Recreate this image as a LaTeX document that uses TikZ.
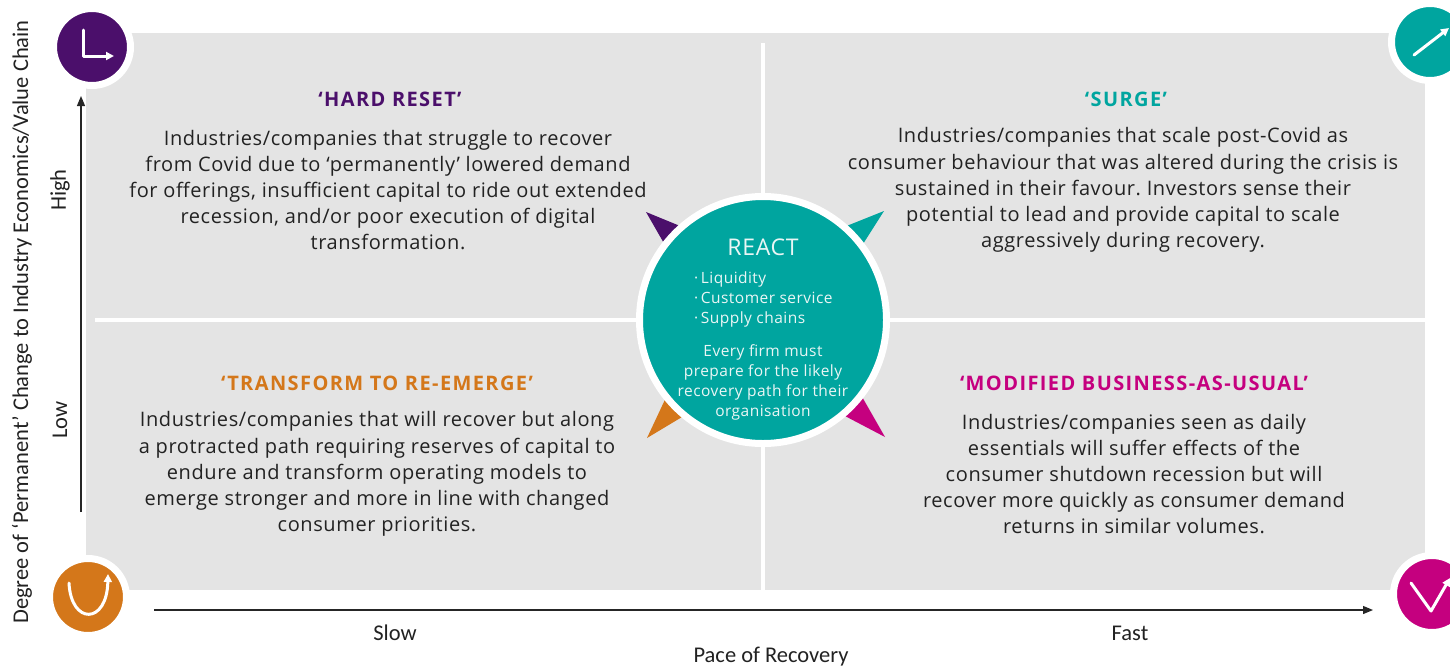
\documentclass[tikz,border=0pt]{standalone}
\usepackage{fontspec}
\setmainfont{Open Sans}
\newfontfamily\axisfont{Carlito}
\usetikzlibrary{arrows.meta}
\definecolor{cpurple}{HTML}{4B0F6B}
\definecolor{cteal}{HTML}{00A59F}
\definecolor{corange}{HTML}{D4771A}
\definecolor{cmagenta}{HTML}{C5007F}
\definecolor{cgrey}{HTML}{E4E4E4}
\definecolor{ctext}{HTML}{222222}
\definecolor{clight}{HTML}{EAF6F5}
\frenchspacing
\begin{document}
\begin{tikzpicture}[x=1pt,y=-1pt,
  iconring/.style={circle, draw=white, line width=7pt, minimum size=77pt, inner sep=0pt},
  iconline/.style={draw=white, line width=3pt, line cap=round, line join=round},
  icontip/.style={-{Triangle[length=8pt,width=8pt]}},
  qtitle/.style={font={\fontsize{20}{22}\selectfont\bfseries\addfontfeatures{LetterSpace=7}}, inner sep=0pt},
  qbody/.style={font={\fontsize{20}{26.2}\selectfont\addfontfeatures{LetterSpace=3}}, text=ctext, align=center, inner sep=0pt},
  axisline/.style={draw=black!85, line width=1.2pt, -{Triangle[length=10pt,width=8pt]}},
  axislabel/.style={font=\axisfont\fontsize{22.5}{24}\selectfont, text=ctext, inner sep=0pt},
  insidetxt/.style={text=clight, inner sep=0pt},
  smalltxt/.style={font={\fontsize{15.5}{20}\selectfont\addfontfeatures{LetterSpace=3}}}]
\useasboundingbox (0,0) rectangle (1450,667);
\fill[white] (0,0) rectangle (1450,667);
% grey field and dividers
\fill[cgrey] (86,33) rectangle (1425,590);
\draw[white, line width=4pt] (763,43) -- (763,590);
\draw[white, line width=4pt] (95,320) -- (1425,320);
% corner icons
\node[iconring, fill=cpurple] (tl) at (92,47) {};
\node[iconring, fill=cteal] (tr) at (1430,42) {};
\node[iconring, fill=corange] (bl) at (88,597) {};
\node[iconring, fill=cmagenta] (br) at (1432,594) {};
\draw[iconline, icontip] ([shift={(-9,-17)}]tl.center) -- ([shift={(-9,9)}]tl.center) -- ([shift={(22,9)}]tl.center);
\draw[iconline, icontip] ([shift={(-16,13)}]tr.center) -- ([shift={(19,-14)}]tr.center);
\draw[iconline, icontip] ([shift={(-19,-14)}]bl.center) .. controls ([shift={(-17,28)}]bl.center) and ([shift={(19,28)}]bl.center) .. ([shift={(20,-23)}]bl.center);
\draw[iconline, icontip] ([shift={(-21,-11)}]br.center) -- ([shift={(-1,17)}]br.center) -- ([shift={(18,-16)}]br.center);
% pointers
\fill[cpurple] (646,212) -- (702,235) -- (677,266) -- cycle;
\fill[cteal] (884,211) -- (824,235) -- (849,266) -- cycle;
\fill[corange] (647,438) -- (702,405) -- (677,374) -- cycle;
\fill[cmagenta] (885,437) -- (824,405) -- (849,374) -- cycle;
% centre circle
\node[circle, fill=cteal, draw=white, line width=7pt, minimum size=247pt, inner sep=0pt] (react) at (763,320) {};
\node[insidetxt, font={\fontsize{23}{24}\selectfont\addfontfeatures{LetterSpace=3}}] (reacttitle) at (763,247) {REACT};
\node[insidetxt, smalltxt, align=left, anchor=west] (reactlist) at (694,299) {·\,Liquidity\\·\,Customer service\\·\,Supply chains};
\node[insidetxt, smalltxt, align=center] (reactnote) at (763,382) {Every firm must\\prepare for the likely\\recovery path for their\\organisation};
% quadrant texts
\node[qtitle, text=cpurple] (t1) at (390,99) {‘HARD RESET’};
\node[qbody] (b1) at (388,190) {Industries/companies that struggle to recover\\from Covid due to ‘permanently’ lowered demand\\for offerings, insufficient capital to ride out extended\\recession, and/or poor execution of digital\\transformation.};
\node[qtitle, text=cteal] (t2) at (1126,99) {‘SURGE’};
\node[qbody] (b2) at (1123,190) {Industries/companies that scale post-Covid as\\consumer behaviour that was altered during the crisis is\\sustained in their favour. Investors sense their\\potential to lead and provide capital to scale\\aggressively during recovery.};
\node[qtitle, text=corange] (t3) at (377,383) {‘TRANSFORM TO RE-EMERGE’};
\node[qbody] (b3) at (377,474) {Industries/companies that will recover but along\\a protracted path requiring reserves of capital to\\endure and transform operating models to\\emerge stronger and more in line with changed\\consumer priorities.};
\node[qtitle, text=cmagenta] (t4) at (1134,383) {‘MODIFIED BUSINESS-AS-USUAL’};
\node[qbody] (b4) at (1134,474) {Industries/companies seen as daily\\essentials will suffer effects of the\\consumer shutdown recession but will\\recover more quickly as consumer demand\\returns in similar volumes.};
% axes
\coordinate (ya) at (81,512);
\coordinate (yb) at (81,96);
\coordinate (xa) at (154,610);
\coordinate (xb) at (1373,610);
\draw[axisline] (ya) -- (yb);
\draw[axisline] (xa) -- (xb);
\node[axislabel] (slow) at (395,633) {Slow};
\node[axislabel] (fast) at (1130,633) {Fast};
\node[axislabel] (pace) at (771,657) {Pace of Recovery};
\node[axislabel, rotate=90] (degree) at (22,322) {Degree of ‘Permanent’ Change to Industry Economics/Value Chain};
\node[axislabel, rotate=90] (high) at (60,190) {High};
\node[axislabel, rotate=90] (low) at (60,420) {Low};
\end{tikzpicture}
\end{document}
